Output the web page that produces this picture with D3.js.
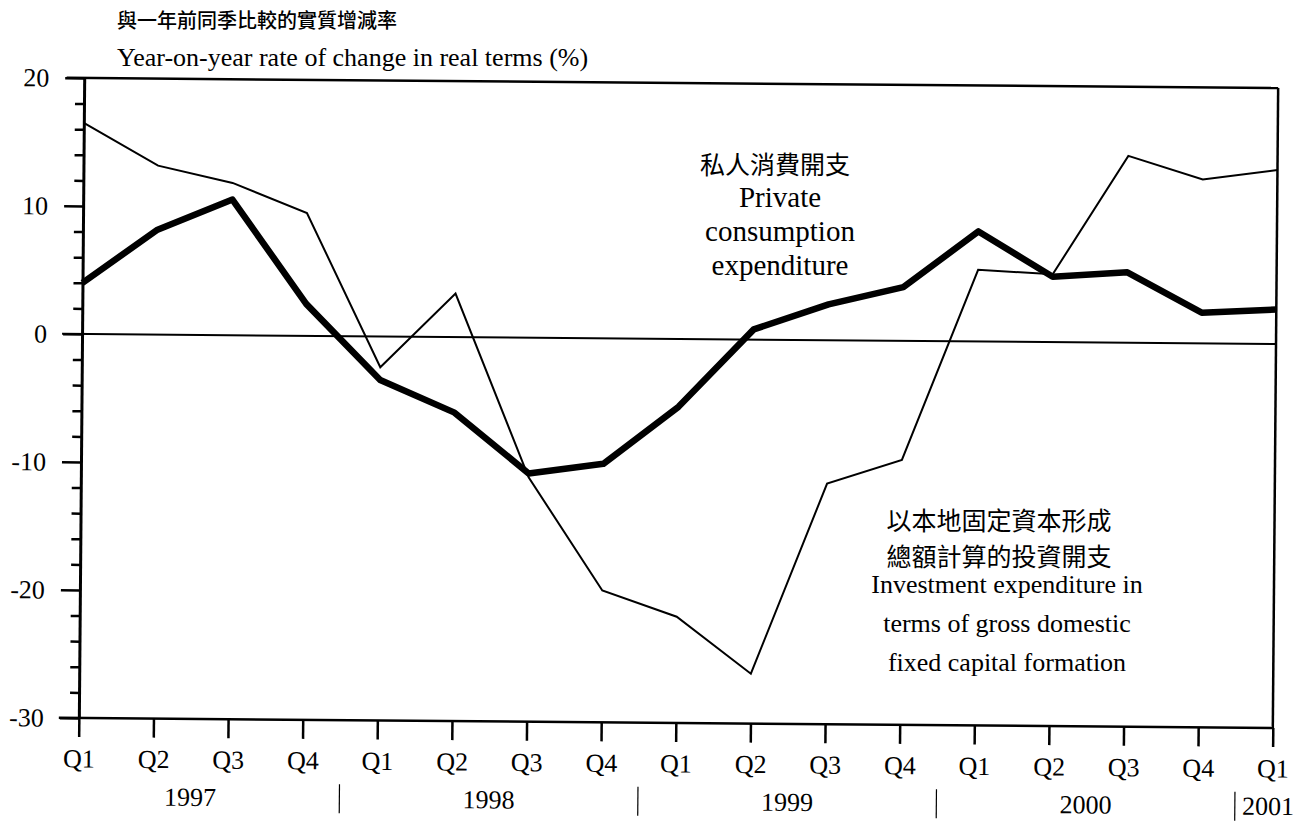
<!DOCTYPE html>
<html>
<head>
<meta charset="utf-8">
<script src="https://cdn.jsdelivr.net/npm/d3@7"></script>
<style>
  body { margin: 0; background: #fff; }
  svg { display: block; }
  .serif { font-family: "Liberation Serif", "Times New Roman", serif; fill: #000; }
  .cjk { font-family: "Noto Sans CJK TC", "Noto Sans CJK SC", sans-serif; fill: #000; }
</style>
</head>
<body>
<svg width="1313" height="822"></svg>
<script>
// chart data
var periods = ["1997Q1","1997Q2","1997Q3","1997Q4",
               "1998Q1","1998Q2","1998Q3","1998Q4",
               "1999Q1","1999Q2","1999Q3","1999Q4",
               "2000Q1","2000Q2","2000Q3","2000Q4",
               "2001Q1"];
var years = ["1997","1998","1999","2000","2001"];
var privateConsumption = [4.0, 8.2, 10.6, 2.5, -3.4, -5.9, -10.6, -9.8, -5.3, 0.8, 2.8, 4.2, 8.6, 5.1, 5.5, 2.4, 2.7];
var investment = [16.5, 13.2, 11.9, 9.6, -2.4, 3.4, -10.9, -19.7, -21.7, -26.1, -11.2, -9.3, 5.6, 5.3, 14.6, 12.8, 13.6];
var yMajor = [20, 10, 0, -10, -20, -30];
var yMinor = d3.range(-28, 20, 2).filter(function(v){ return v % 10 != 0; });

var svg = d3.select("svg");

// plot frame (the scanned original is tilted a little)
var L = 81.5, R = 1275.5, T = 83, B = 723;
var g = svg.append("g").attr("transform", "rotate(0.48, 678.5, 403)");

var x = d3.scalePoint().domain(periods).range([L, R]);
var y = d3.scaleLinear().domain([-30, 20]).range([B, T]);

// frame: top and right
g.append("line").attr("x1", 64).attr("x2", R).attr("y1", T).attr("y2", T)
  .attr("stroke", "#000").attr("stroke-width", 2.5);
g.append("line").attr("x1", R).attr("x2", R).attr("y1", T).attr("y2", B)
  .attr("stroke", "#000").attr("stroke-width", 2.5);

// y axis: minor ticks then major ticks with labels
g.append("g").attr("transform", "translate(" + L + ",0)")
  .call(d3.axisLeft(y).tickValues(yMinor).tickSize(9).tickFormat(""))
  .call(function(a){ a.select(".domain").remove(); a.selectAll("line").attr("stroke-width", 2.5); });

var yAxis = g.append("g").attr("transform", "translate(" + L + ",0)")
  .call(d3.axisLeft(y).tickValues(yMajor).tickSize(19).tickPadding(16).tickSizeOuter(0)
    .tickFormat(function(d){ return String(d); }));
yAxis.select(".domain").attr("stroke-width", 3);
yAxis.selectAll("line").attr("stroke-width", 2.5);
yAxis.selectAll("text").attr("class", "serif").style("font-size", "26px")
  .attr("font-family", null).attr("fill", "#000");

// x axis
var xAxis = g.append("g").attr("transform", "translate(0," + B + ")")
  .call(d3.axisBottom(x).tickSize(19).tickPadding(12).tickSizeOuter(0)
    .tickFormat(function(d){ return d.slice(4); }));
xAxis.select(".domain").attr("stroke-width", 2.5)
  .attr("d", "M" + (L - 20) + ",0H" + R);
xAxis.selectAll("line").attr("stroke-width", 2.5);
xAxis.selectAll("text").attr("class", "serif").style("font-size", "26px")
  .attr("font-family", null).attr("fill", "#000");

// year labels and separators
var step = x.step();
years.forEach(function(yr){
  var qs = periods.filter(function(p){ return p.slice(0, 4) == yr; });
  var cx = (x(qs[0]) + x(qs[qs.length - 1])) / 2;
  if (qs.length == 1) cx -= 4;
  g.append("text").attr("class", "serif").style("font-size", "26px")
    .attr("text-anchor", "middle").attr("x", cx).attr("y", B + 87).text(yr);
  if (yr != years[0]) {
    var sx = x(qs[0]) - step / 2;
    g.append("line").attr("x1", sx).attr("x2", sx)
      .attr("y1", B + 64).attr("y2", B + 93)
      .attr("stroke", "#000").attr("stroke-width", 1.2);
  }
});

// zero line
g.append("line").attr("x1", L - 20).attr("x2", R).attr("y1", y(0)).attr("y2", y(0))
  .attr("stroke", "#000").attr("stroke-width", 2);

var line = d3.line()
  .x(function(d, i){ return x(periods[i]); })
  .y(function(d){ return y(d); });

g.append("path").datum(investment)
  .attr("d", line).attr("fill", "none")
  .attr("stroke", "#000").attr("stroke-width", 2).attr("stroke-linejoin", "miter");

g.append("path").datum(privateConsumption)
  .attr("d", line).attr("fill", "none")
  .attr("stroke", "#000").attr("stroke-width", 6.5).attr("stroke-linejoin", "round");

// titles
svg.append("text").attr("class", "cjk").style("font-size", "20px").style("font-weight", 500)
  .attr("x", 117).attr("y", 28).text("與一年前同季比較的實質增減率");
svg.append("text").attr("class", "serif").style("font-size", "26px")
  .attr("x", 117).attr("y", 66).text("Year-on-year rate of change in real terms (%)");

// series annotations
svg.append("text").attr("class", "cjk").style("font-size", "25px")
  .attr("text-anchor", "middle").attr("x", 775).attr("y", 174).text("私人消費開支");
["Private", "consumption", "expenditure"].forEach(function(t, i){
  svg.append("text").attr("class", "serif").style("font-size", "29px")
    .attr("text-anchor", "middle").attr("x", 780).attr("y", 207 + i * 34).text(t);
});

["以本地固定資本形成", "總額計算的投資開支"].forEach(function(t, i){
  svg.append("text").attr("class", "cjk").style("font-size", "25px")
    .attr("text-anchor", "middle").attr("x", 999).attr("y", 530 + i * 36).text(t);
});
["Investment expenditure in", "terms of gross domestic", "fixed capital formation"].forEach(function(t, i){
  svg.append("text").attr("class", "serif").style("font-size", "26px")
    .attr("text-anchor", "middle").attr("x", 1007).attr("y", 593 + i * 39).text(t);
});
</script>
</body>
</html>
